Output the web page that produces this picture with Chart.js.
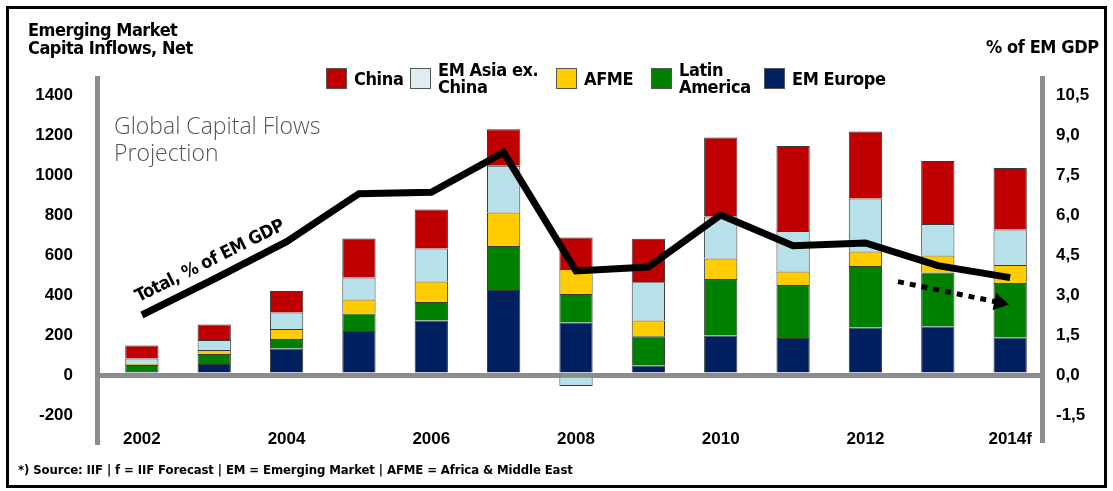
<!DOCTYPE html>
<html>
<head>
<meta charset="utf-8">
<script src="https://cdn.jsdelivr.net/npm/chart.js@4.4.1/dist/chart.umd.min.js"></script>
<style>
  body { margin: 0; background: #fff; }
  #wrap { position: relative; width: 1113px; height: 491px; overflow: hidden; background: #fff; }
  #frame { position: absolute; left: 6px; top: 6px; width: 1095px; height: 476px; border: 3px solid #000; }
  canvas { position: absolute; left: 0; top: 0; }
  .t { position: absolute; font-family: 'DejaVu Sans Condensed', 'Liberation Sans Narrow', sans-serif;
       font-weight: bold; color: #000; white-space: nowrap; }
  #leftTitle { left: 28px; top: 21px; font-size: 18px; line-height: 18px; letter-spacing: -0.5px; }
  #rightTitle { left: 986px; top: 36px; font-size: 18px; letter-spacing: -0.4px; }
  #note { position: absolute; left: 114px; top: 112px; font-family: 'Open Sans', sans-serif; font-weight: 300;
          font-size: 23px; line-height: 27px; color: #555; white-space: nowrap; }
  #lineLabel { left: 140px; top: 286px; font-size: 18px; line-height: 19px; letter-spacing: -0.5px;
               transform-origin: 0 100%; transform: rotate(-26.5deg); }
  #footer { left: 18px; top: 462px; font-size: 13px; letter-spacing: -0.1px; }
  .leg { position: absolute; top: 58px; display: flex; align-items: center; height: 40px; }
  .leg .box { width: 19px; height: 19px; border: 1px solid #555; margin-right: 7px; }
  .leg .lab { font-family: 'DejaVu Sans Condensed', 'Liberation Sans Narrow', sans-serif; font-weight: bold;
              font-size: 18px; line-height: 17px; letter-spacing: -0.4px; }
</style>
</head>
<body>
<div id="wrap">
  <canvas id="chart" width="1113" height="491"></canvas>
  <div id="frame"></div>
  <div class="t" id="leftTitle">Emerging Market<br>Capita Inflows, Net</div>
  <div class="t" id="rightTitle">% of EM GDP</div>
  <div id="note">Global Capital Flows<br>Projection</div>
  <div class="t" id="lineLabel">Total, % of EM GDP</div>
  <div class="t" id="footer">*) Source: IIF | f = IIF Forecast | EM = Emerging Market | AFME = Africa &amp; Middle East</div>
  <div id="legend"></div>
</div>
<script>
document.addEventListener('DOMContentLoaded', function() {

    // data (USD bn, stacked from the bottom up)
    const years = ['2002', '2003', '2004', '2005', '2006', '2007', '2008', '2009', '2010', '2011', '2012', '2013', '2014f'];
    const labeledYears = ['2002', '2004', '2006', '2008', '2010', '2012', '2014f'];
    const emEurope = [20, 55, 133, 220, 272, 425, 263, 47, 197, 185, 238, 243, 188];
    const latinAmerica = [30, 50, 47, 88, 93, 220, 142, 147, 283, 265, 307, 270, 272];
    const afme = [5, 20, 50, 70, 102, 168, 125, 78, 103, 68, 72, 84, 90];
    const emAsiaExChina = [27, 50, 83, 110, 165, 233, -55, 192, 209, 202, 265, 158, 177];
    const china = [65, 78, 107, 195, 195, 183, 158, 217, 396, 425, 336, 315, 308];
    // total as % of EM GDP (right axis)
    const totalPct = [2.25, 3.6, 5.0, 6.8, 6.85, 8.35, 3.9, 4.05, 6.0, 4.85, 4.95, 4.1, 3.65];
    // dotted trend arrow (x in year index, y in % of GDP)
    const arrowX = [10.45, 11.85];
    const arrowY = [3.5, 2.72];

    const leftTicks = [-200, 0, 200, 400, 600, 800, 1000, 1200, 1400];
    const rightTicks = [-1.5, 0, 1.5, 3, 4.5, 6, 7.5, 9, 10.5];

    const LEFT_MIN = -335, LEFT_MAX = 1485;
    const RATIO = rightTicks[rightTicks.length - 1] / leftTicks[leftTicks.length - 1];
    const AXIS_GRAY = '#8c8c8c';
    const TICK_FONT = { family: "'Liberation Sans', Arial, sans-serif", size: 17, weight: 'bold' };

    const series = [
        { name: 'EM Europe', data: emEurope, color: '#002060', legendColor: '#002060' },
        { name: 'Latin\nAmerica', data: latinAmerica, color: '#008000', legendColor: '#008000' },
        { name: 'AFME', data: afme, color: '#FFCC00', legendColor: '#FFCC00' },
        { name: 'EM Asia ex.\nChina', data: emAsiaExChina, color: '#B8E0E8', legendColor: '#DDEEF2' },
        { name: 'China', data: china, color: '#C00000', legendColor: '#C00000' }
    ];

    function toPoints(arr) {
        return arr.map((v, i) => ({ x: i, y: v }));
    }

    // legend (html, reverse stack order like the original)
    const legendLeft = [326, 410, 556, 651, 764];
    const legend = document.getElementById('legend');
    series.slice().reverse().forEach((s, i) => {
        const item = document.createElement('div');
        item.className = 'leg';
        item.style.left = legendLeft[i] + 'px';
        item.innerHTML = '<div class="box" style="background:' + s.legendColor + '"></div>' +
            '<div class="lab">' + s.name.replace('\n', '<br>') + '</div>';
        legend.appendChild(item);
    });

    const datasets = series.map(s => ({
        type: 'bar',
        label: s.name,
        data: toPoints(s.data),
        backgroundColor: s.color,
        borderColor: '#3a3a3a',
        borderWidth: 1,
        grouped: false,
        categoryPercentage: 1,
        barPercentage: 0.46,
        yAxisID: 'y',
        order: 2
    }));

    datasets.push({
        type: 'line',
        label: 'Total, % of EM GDP',
        data: toPoints(totalPct),
        borderColor: '#000',
        borderWidth: 7,
        borderJoinStyle: 'miter',
        pointRadius: 0,
        tension: 0,
        yAxisID: 'y1',
        order: 0
    });

    datasets.push({
        type: 'line',
        label: 'trend',
        data: arrowX.map((x, i) => ({ x: x, y: arrowY[i] })),
        borderColor: '#000',
        borderWidth: 5,
        borderDash: [6, 6],
        pointRadius: [0, 10],
        pointStyle: 'triangle',
        pointRotation: 102,
        pointBackgroundColor: '#000',
        pointBorderWidth: 0,
        yAxisID: 'y1',
        order: 1
    });

    new Chart(document.getElementById('chart'), {
        data: { datasets },
        options: {
            responsive: false,
            animation: false,
            layout: { padding: { left: 10, right: 0, top: 78, bottom: 29 } },
            plugins: { legend: { display: false }, tooltip: { enabled: false } },
            scales: {
                x: {
                    type: 'linear',
                    offset: false,
                    bounds: 'data',
                    min: -0.62,
                    max: 12.44,
                    grid: { display: false, drawTicks: false },
                    border: { display: false },
                    afterBuildTicks: s => { s.ticks = labeledYears.map(l => ({ value: years.indexOf(l) })); },
                    afterFit: s => { s.height = 20; },
                    ticks: {
                        autoSkip: false,
                        maxRotation: 0,
                        mirror: true,
                        padding: -8,
                        color: '#000',
                        font: TICK_FONT,
                        callback: v => years[v]
                    }
                },
                y: {
                    position: 'left',
                    stacked: true,
                    min: LEFT_MIN,
                    max: LEFT_MAX,
                    afterBuildTicks: s => { s.ticks = leftTicks.map(v => ({ value: v })); },
                    afterFit: s => { s.width = 87; },
                    grid: {
                        drawTicks: false,
                        lineWidth: 5,
                        color: c => (c.tick && c.tick.value === 0) ? AXIS_GRAY : 'rgba(0,0,0,0)'
                    },
                    border: { color: AXIS_GRAY, width: 5 },
                    ticks: { padding: 24, color: '#000', font: TICK_FONT, callback: v => v }
                },
                y1: {
                    position: 'right',
                    min: LEFT_MIN * RATIO,
                    max: LEFT_MAX * RATIO,
                    afterBuildTicks: s => { s.ticks = rightTicks.map(v => ({ value: v })); },
                    afterFit: s => { s.width = 71; },
                    grid: { display: false, drawTicks: false },
                    border: { color: AXIS_GRAY, width: 5 },
                    ticks: {
                        padding: 14,
                        color: '#000',
                        font: TICK_FONT,
                        callback: v => v.toFixed(1).replace('.', ',')
                    }
                }
            }
        }
    });
});
</script>
</body>
</html>
